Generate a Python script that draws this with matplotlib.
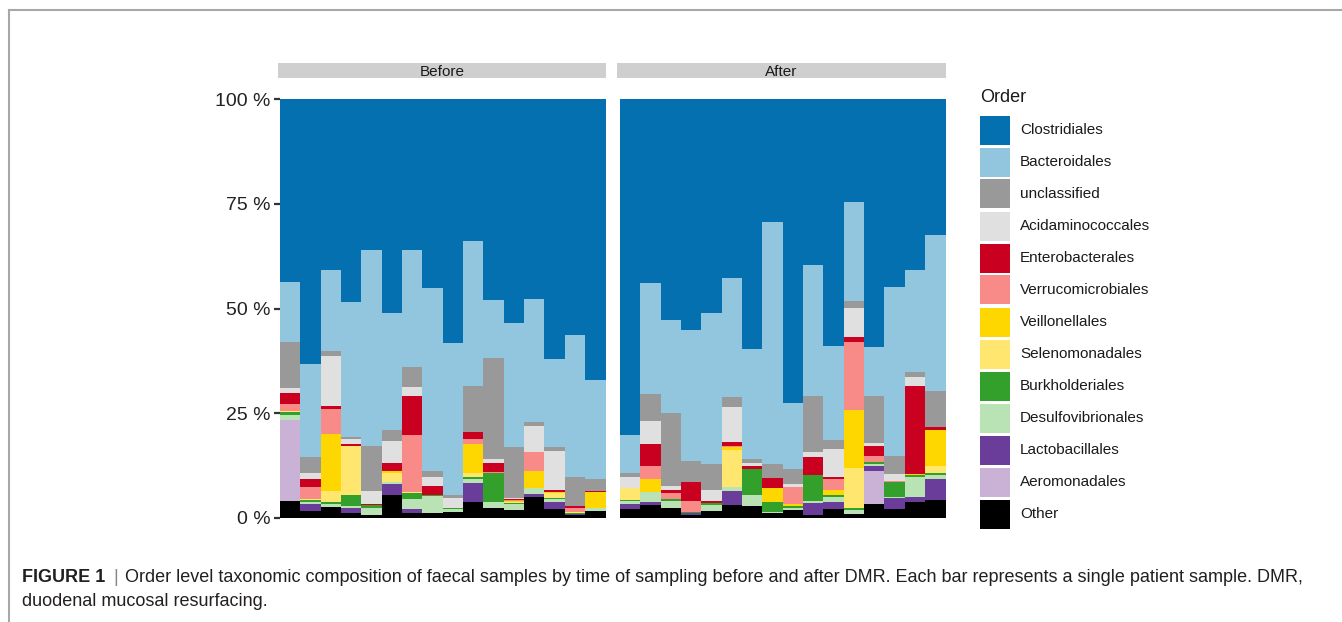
import numpy as np
import matplotlib
matplotlib.use("Agg")
import matplotlib.pyplot as plt
from matplotlib.patches import Rectangle
from matplotlib.lines import Line2D

plt.rcParams['font.family'] = ['Liberation Sans', 'DejaVu Sans']

# ---- data: relative abundance (%) per sample, 16 samples before then 16 after ----
panels = ["Before", "After"]
n_samples = 16

other = [4.1, 1.75, 2.7, 1.1, 0.7, 5.4, 1.1, 1.3, 1.5, 3.7, 2.4, 1.9, 4.9, 2.2, 0.6, 1.75,
         2.2, 3.0, 2.4, 0.6, 1.6, 3.0, 2.9, 1.1, 1.9, 0.7, 2.1, 0.9, 3.3, 2.2, 3.9, 4.3]
aeromonadales = [19.4, 0, 0, 0, 0, 0, 0, 0, 0, 0, 0, 0, 0, 0, 0, 0,
                 0, 0, 0, 0, 0, 0, 0, 0, 0, 0, 0, 0, 8.0, 0, 0, 0]
lactobacillales = [0, 1.55, 0, 1.2, 0, 2.7, 1.0, 0, 0, 4.7, 0, 0, 0.8, 1.5, 0.4, 0,
                   1.1, 0.7, 0, 0.5, 0, 3.5, 0, 0, 0, 2.8, 1.6, 0, 1.0, 2.5, 1.2, 5.0]
desulfovibrionales = [1.2, 0.6, 0.6, 0.6, 1.7, 0.4, 2.4, 3.9, 0.6, 0.9, 1.3, 1.4, 1.4, 0.8, 0, 0.75,
                      0.7, 2.4, 1.6, 0, 1.5, 0.8, 2.7, 0.4, 0.5, 0.6, 1.4, 1.0, 0.6, 0.4, 4.8, 1.0]
burkholderiales = [0.6, 0.4, 0.6, 2.6, 0.6, 0, 1.5, 0.3, 0.2, 0.5, 7.0, 0.3, 0, 0.2, 0.3, 0,
                   0.3, 0, 0.5, 0.4, 0.4, 0, 6.0, 2.4, 0.4, 6.2, 0.4, 0.5, 0.5, 3.4, 0.4, 0.5]
selenomonadales = [0.2, 0.2, 2.6, 11.7, 0, 2.2, 0.2, 0, 0, 1.0, 0, 0.3, 0, 1.2, 0.2, 0,
                   2.8, 0, 0, 0, 0, 8.9, 0, 0, 0, 0, 0, 9.5, 0, 0, 0, 1.5]
veillonellales = [0, 0, 13.6, 0.1, 0, 0.6, 0.1, 0, 0, 6.9, 0, 0.2, 4.2, 0.2, 0, 3.7,
                  0, 3.1, 0, 0, 0, 0.8, 0, 3.2, 0.5, 0, 1.3, 13.9, 0, 0, 0.3, 8.7]
verrucomicrobiales = [1.6, 2.8, 5.9, 0, 0.15, 0, 13.5, 0, 0, 1.1, 0.3, 0.2, 4.4, 0, 1.0, 0,
                      0, 3.1, 1.4, 2.6, 0, 0.3, 0, 0, 4.2, 0, 2.4, 16.3, 1.4, 0.3, 0, 0]
enterobacterales = [2.8, 1.9, 0.8, 0.4, 0.2, 1.9, 9.3, 2.2, 0, 1.8, 2.2, 0.2, 0, 0.7, 0.4, 0.3,
                    0, 5.4, 0.9, 4.4, 0.6, 0.8, 0.8, 2.4, 0, 4.2, 0.5, 1.2, 2.5, 0, 20.9, 0.6]
acidaminococcales = [1.1, 1.5, 11.9, 1.1, 3.05, 5.2, 2.1, 2.0, 2.4, 0, 1.0, 0.2, 6.3, 9.3, 0, 0,
                     2.6, 5.5, 0.8, 0, 2.7, 8.3, 0.8, 0, 0.6, 1.3, 6.7, 6.9, 0.7, 1.7, 2.1, 0]
unclassified = [11.0, 3.9, 1.2, 0.5, 10.9, 2.5, 4.8, 1.5, 0.8, 11.0, 24.1, 12.3, 1.0, 0.8, 7.0, 2.8,
                1.0, 6.4, 17.4, 5.2, 6.2, 2.4, 0.8, 3.4, 3.6, 13.3, 2.1, 1.6, 11.1, 4.3, 1.3, 8.6]
bacteroidales = [14.3, 22.2, 19.3, 32.3, 46.7, 28.1, 28.0, 43.8, 36.3, 34.4, 13.7, 29.5, 29.2, 21.0, 33.8, 23.7,
                 9.1, 26.4, 22.3, 31.2, 35.9, 28.4, 26.3, 57.8, 15.8, 31.3, 22.5, 23.6, 11.7, 40.3, 24.3, 37.3]
clostridiales = [43.7, 63.2, 40.8, 48.4, 36.0, 51.0, 36.0, 45.0, 58.2, 34.0, 48.0, 53.5, 47.8, 62.1, 56.3, 67.0,
                 80.2, 44.0, 52.7, 55.1, 51.1, 42.8, 59.7, 29.3, 72.5, 39.6, 59.0, 24.6, 59.2, 44.9, 40.8, 32.5]

# legend order (top of stack first)
order_names = ["Clostridiales", "Bacteroidales", "unclassified", "Acidaminococcales",
               "Enterobacterales", "Verrucomicrobiales", "Veillonellales", "Selenomonadales",
               "Burkholderiales", "Desulfovibrionales", "Lactobacillales", "Aeromonadales", "Other"]
order_values = [clostridiales, bacteroidales, unclassified, acidaminococcales,
                enterobacterales, verrucomicrobiales, veillonellales, selenomonadales,
                burkholderiales, desulfovibrionales, lactobacillales, aeromonadales, other]
order_colors = ["#0570B0", "#92C5DE", "#999999", "#E0E0E0",
                "#CA0020", "#F88B88", "#FFD700", "#FFE66E",
                "#33A02C", "#B9E3B5", "#6A3D9A", "#CAB2D6", "#000000"]

y_ticks = [0, 25, 50, 75, 100]
y_ticklabels = ["0 %", "25 %", "50 %", "75 %", "100 %"]

# ---- figure layout in pixel units ----
W, H = 1342, 622
fig = plt.figure(figsize=(W / 100, H / 100), dpi=100)


def fbox(x0, y0, x1, y1):
    """pixel box (top-left origin) -> figure fraction [left, bottom, width, height]"""
    return [x0 / W, 1 - y1 / H, (x1 - x0) / W, (y1 - y0) / H]


panel_px = [(280, 99, 605.5, 518), (620, 99, 945.5, 518)]
strip_px = [(278, 63, 606, 78), (617, 63, 946, 78)]

x = np.arange(n_samples)
for p, name in enumerate(panels):
    ax = fig.add_axes(fbox(*panel_px[p]))
    sl = slice(p * n_samples, (p + 1) * n_samples)
    bottom = np.zeros(n_samples)
    # stack from the bottom of the legend upwards
    for vals, col in zip(order_values[::-1], order_colors[::-1]):
        v = np.array(vals[sl], dtype=float)
        ax.bar(x, v, width=1.0, bottom=bottom, color=col, linewidth=0)
        bottom += v
    ax.set_xlim(-0.5, n_samples - 0.5)
    ax.set_ylim(0, 100)
    for s in ax.spines.values():
        s.set_visible(False)
    ax.set_xticks([])
    if p == 0:
        ax.set_yticks(y_ticks)
        ax.set_yticklabels(y_ticklabels, fontsize=14, color="#222222")
        ax.tick_params(axis='y', length=4, width=1.6, color="#333333", pad=3)
    else:
        ax.set_yticks([])

    sx0, sy0, sx1, sy1 = strip_px[p]
    fig.add_artist(Rectangle((sx0 / W, 1 - sy1 / H), (sx1 - sx0) / W, (sy1 - sy0) / H,
                             transform=fig.transFigure, facecolor="#CFCFCF", edgecolor="none"))
    fig.text((sx0 + sx1) / 2 / W, 1 - (sy0 + sy1 + 2) / 2 / H, name, ha="center", va="center",
             fontsize=11, color="#1A1A1A")

# ---- legend ----
fig.text(980 / W, 1 - 97 / H, "Order", ha="left", va="center", fontsize=13, color="#1A1A1A")
for i, (nm, col) in enumerate(zip(order_names, order_colors)):
    yc = 130 + 32 * i
    fig.add_artist(Rectangle((980 / W, 1 - (yc + 14.5) / H), 30 / W, 29 / H,
                             transform=fig.transFigure, facecolor=col, edgecolor="none"))
    fig.text(1020 / W, 1 - yc / H, nm, ha="left", va="center", fontsize=11, color="#1A1A1A")

# ---- outer frame ----
fig.add_artist(Line2D([9 / W, 9 / W], [0, 1 - 10 / H], transform=fig.transFigure,
                      color="#A8A8A8", linewidth=1.5))
fig.add_artist(Line2D([9 / W, 1], [1 - 10 / H, 1 - 10 / H], transform=fig.transFigure,
                      color="#A8A8A8", linewidth=1.5))

# ---- caption ----
cap_color = "#231F20"
cap_size = 13
t_bold = fig.text(22 / W, 1 - 578 / H, "FIGURE 1", ha="left", va="center", fontsize=cap_size,
                  fontweight="bold", color=cap_color)
fig.canvas.draw()
bb = t_bold.get_window_extent()
fig.text(bb.x1 / W + 8 / W, 1 - 578 / H, "|", ha="left", va="center", fontsize=cap_size, color="#888888")
fig.text(bb.x1 / W + 20 / W, 1 - 578 / H,
         "Order level taxonomic composition of faecal samples by time of sampling before and after DMR. "
         "Each bar represents a single patient sample. DMR,",
         ha="left", va="center", fontsize=cap_size, color=cap_color)
fig.text(22 / W, 1 - 601 / H, "duodenal mucosal resurfacing.", ha="left", va="center",
         fontsize=cap_size, color=cap_color)

fig.savefig("out.png", dpi=100)
